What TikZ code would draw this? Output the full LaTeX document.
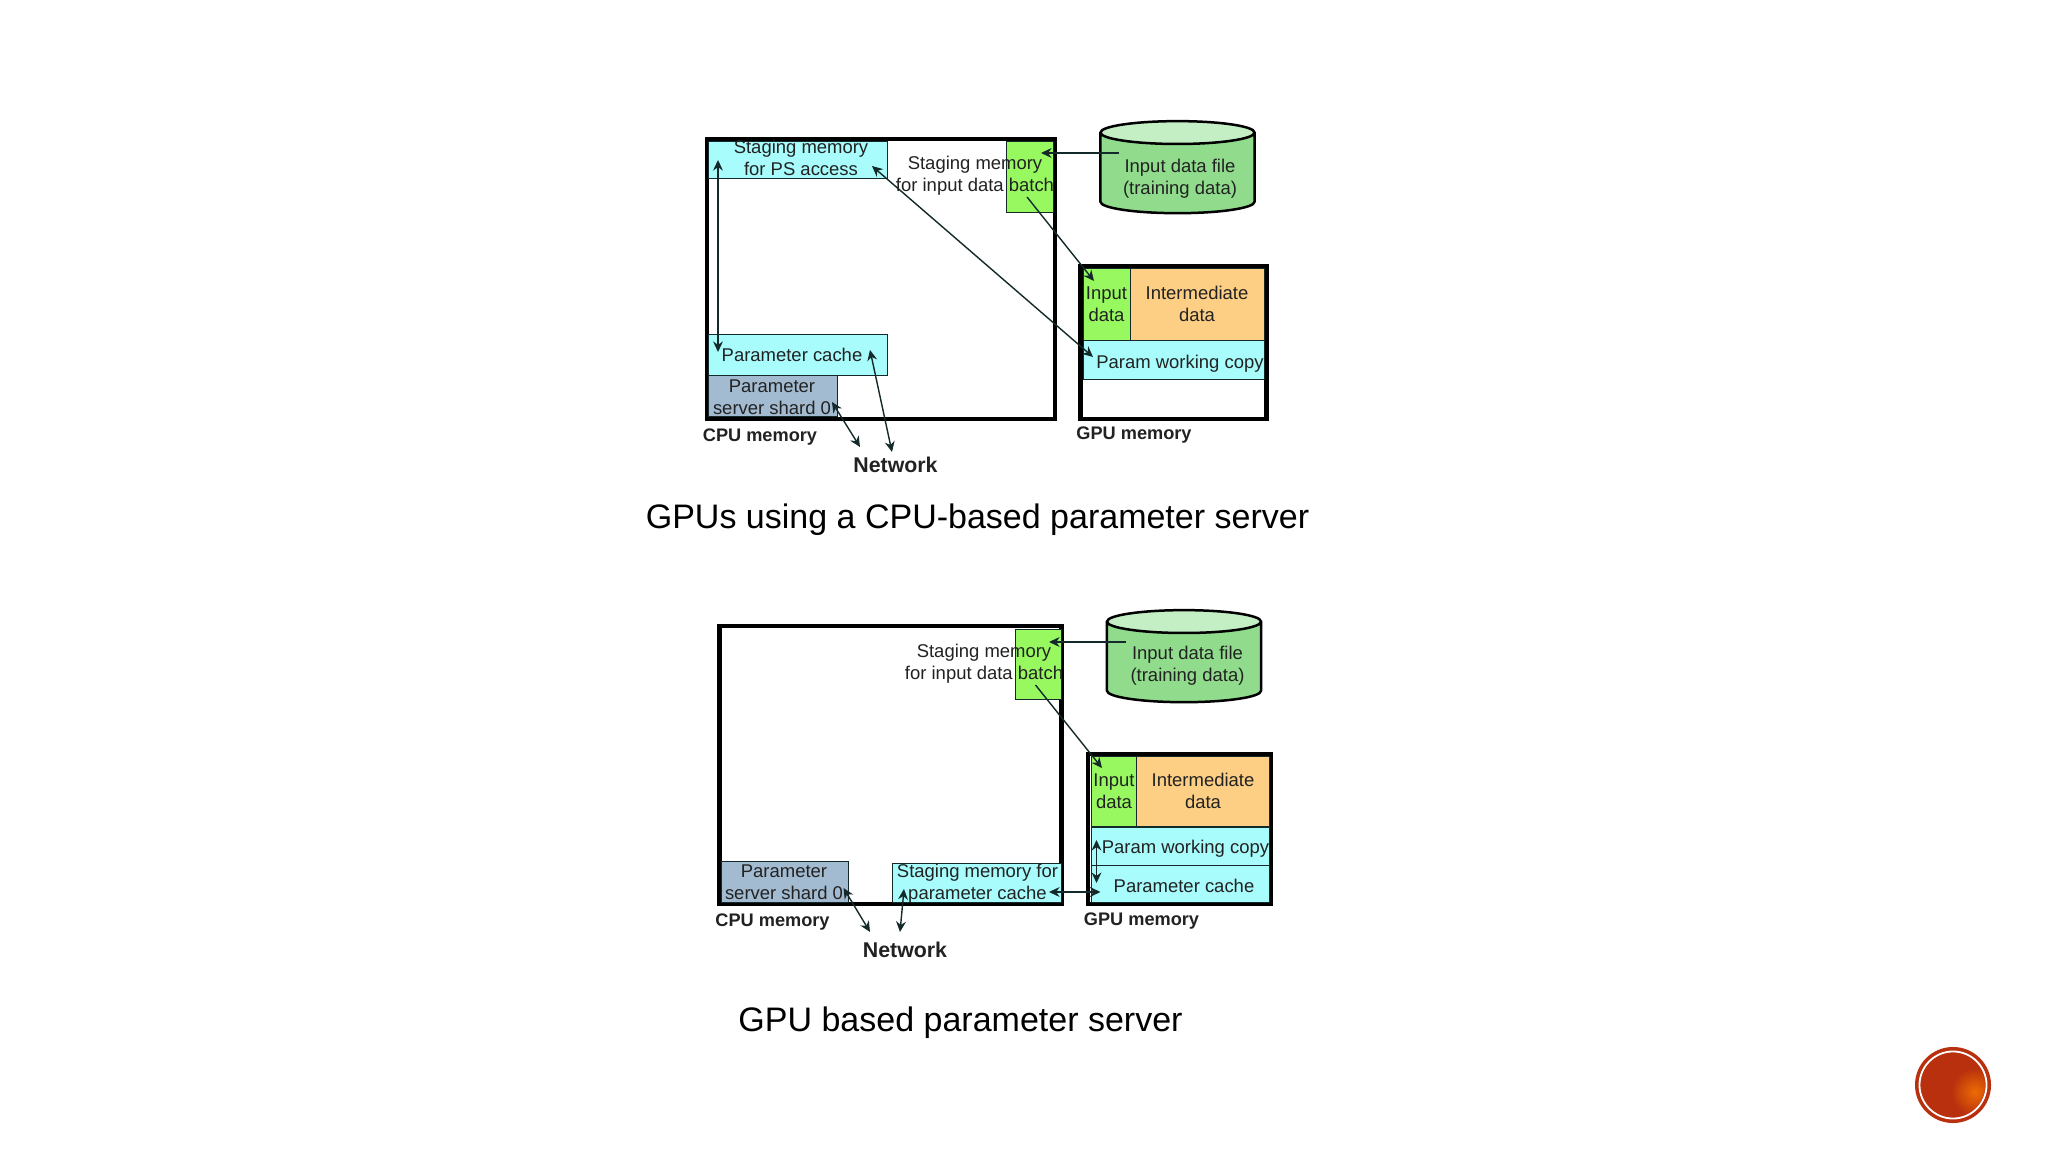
\documentclass[tikz,border=0pt]{standalone}
\usepackage{fontspec}
\usepackage{xcolor}
\usetikzlibrary{arrows.meta,shapes.geometric}
\setmainfont{Liberation Sans}
\definecolor{tcyan}{HTML}{A8FCFC}
\definecolor{tgreen}{HTML}{98F860}
\definecolor{torange}{HTML}{FDCF85}
\definecolor{tslate}{HTML}{A3BBD0}
\definecolor{tfile}{HTML}{90DC8C}
\definecolor{tfiletop}{HTML}{C4EEC4}
\definecolor{trust}{HTML}{B8300E}
\definecolor{tline}{HTML}{142A2A}
\definecolor{ttext}{HTML}{222222}

\begin{document}
\begin{tikzpicture}[x=0.01cm, y=-0.01cm,
    >={Stealth[length=3pt,width=2.8pt]},
    membox/.style={draw=black, line width=0.045cm, fill=white, inner sep=0pt},
    cell/.style={draw=tline, line width=0.008cm, inner sep=0pt, align=center, text=ttext,
                 font=\fontsize{5.25pt}{6.25pt}\selectfont},
    cyancell/.style={cell, fill=tcyan},
    greencell/.style={cell, fill=tgreen},
    orangecell/.style={cell, fill=torange},
    slatecell/.style={cell, fill=tslate},
    celltxt/.style={inner sep=0pt, align=center, text=ttext, font=\fontsize{5.25pt}{6.25pt}\selectfont},
    memlbl/.style={inner sep=0pt, text=ttext, font=\bfseries\fontsize{5.17pt}{6pt}\selectfont},
    netlbl/.style={inner sep=0pt, text=ttext, font=\bfseries\fontsize{6.07pt}{7pt}\selectfont},
    caption/.style={inner sep=0pt, font=\fontsize{9.67pt}{12pt}\selectfont},
    filecyl/.style={cylinder, shape border rotate=90, aspect=1.3, draw=black, line width=0.025cm,
                    cylinder uses custom fill, cylinder body fill=tfile, cylinder end fill=tfiletop,
                    minimum width=1.54cm, minimum height=0.92cm, inner sep=0pt},
    link/.style={draw=tline, line width=0.014cm}]

    \useasboundingbox (0,0) rectangle (2048,1152);

    % --- upper panel ------------------------------------------------------
    \node[membox, minimum width=3.48cm, minimum height=2.80cm] (cpuA) at (881,279) {};
    \node[membox, minimum width=1.86cm, minimum height=1.53cm] (gpuA) at (1173.5,342.5) {};
    \node[cyancell, minimum width=1.795cm, minimum height=0.37cm] (psA) at (798,159.5) {};
    \node[greencell, minimum width=0.47cm, minimum height=0.71cm] (batchA) at (1030,176.5) {};
    \node[cyancell, minimum width=1.795cm, minimum height=0.41cm] (cacheA) at (798,354.5) {};
    \node[slatecell, minimum width=1.29cm, minimum height=0.41cm] (shardA) at (773,395.5) {};
    \node[greencell, minimum width=0.47cm, minimum height=0.72cm] (inputA) at (1106.5,304) {Input\\data};
    \node[orangecell, minimum width=1.34cm, minimum height=0.72cm] (interA) at (1197,304) {Intermediate\\data};
    \node[cyancell, minimum width=1.81cm, minimum height=0.39cm] (workA) at (1173.5,359.5) {};
    \node[filecyl] (fileA) at (1177.5,173.5) {\phantom{x}};
    % texts that run over the cell edges
    \node[celltxt] (filetxtA) at (1180,179) {Input data file\\(training data)};
    \node[celltxt] (pstxtA) at (801,158) {Staging memory\\for PS access};
    \node[celltxt] (stagetxtA) at (975,175.5) {Staging memory\\for input data batch};
    \node[celltxt] (cachetxtA) at (792,355) {Parameter cache};
    \node[celltxt] (shardtxtA) at (772,397) {Parameter\\server shard 0};
    \node[celltxt] (worktxtA) at (1180,363.5) {Param working copy};
    \node[memlbl] (cpulblA) at (760,437) {CPU memory};
    \node[memlbl] (gpulblA) at (1134,435) {GPU memory};
    \node[netlbl] (netA) at (895.5,465) {Network};
    \node[caption] (capA) at (977.5,520) {GPUs using a CPU-based parameter server};

    % arrow ends
    \coordinate (psdownA) at (718,160);
    \coordinate (cacheupA) at (718,352);
    \coordinate (psdiagA) at (872,166);
    \coordinate (workdiagA) at (1093,357);
    \coordinate (fileoutA) at (1118.5,153);
    \coordinate (batchinA) at (1041,153);
    \coordinate (batchoutA) at (1027,197);
    \coordinate (inputinA) at (1094,281);
    \coordinate (shardnetA) at (832,402);
    \coordinate (netleftA) at (860,447);
    \coordinate (cachenetA) at (870,350);
    \coordinate (netrightA) at (892,452);

    \draw[link, <->] (psdownA) -- (cacheupA);
    \draw[link, <->] (psdiagA) -- (workdiagA);
    \draw[link, ->] (fileoutA) -- (batchinA);
    \draw[link, ->] (batchoutA) -- (inputinA);
    \draw[link, <->] (shardnetA) -- (netleftA);
    \draw[link, <->] (cachenetA) -- (netrightA);

    % --- lower panel ------------------------------------------------------
    \node[membox, minimum width=3.42cm, minimum height=2.78cm] (cpuB) at (890.5,765) {};
    \node[membox, minimum width=1.83cm, minimum height=1.50cm] (gpuB) at (1179.5,829) {};
    \node[greencell, minimum width=0.46cm, minimum height=0.70cm] (batchB) at (1038,664) {};
    \node[slatecell, minimum width=1.27cm, minimum height=0.41cm] (shardB) at (784.5,881.5) {};
    \node[cyancell, minimum width=1.685cm, minimum height=0.39cm] (stageB) at (977,882.5) {};
    \node[greencell, minimum width=0.456cm, minimum height=0.70cm] (inputB) at (1114,791) {Input\\data};
    \node[orangecell, minimum width=1.326cm, minimum height=0.70cm] (interB) at (1203,791) {Intermediate\\data};
    \node[cyancell, minimum width=1.78cm, minimum height=0.38cm] (workB) at (1180,846) {};
    \node[cyancell, minimum width=1.78cm, minimum height=0.37cm] (cacheB) at (1180,883.5) {};
    \node[filecyl] (fileB) at (1184,662.5) {\phantom{x}};
    % texts that run over the cell edges
    \node[celltxt] (filetxtB) at (1187.5,666) {Input data file\\(training data)};
    \node[celltxt] (stagetxtB) at (984,663.5) {Staging memory\\for input data batch};
    \node[celltxt] (shardtxtB) at (784,882) {Parameter\\server shard 0};
    \node[celltxt] (stagecachetxtB) at (977.5,883.5) {Staging memory for\\parameter cache};
    \node[celltxt] (worktxtB) at (1185.5,849) {Param working copy};
    \node[celltxt] (cachetxtB) at (1184,886) {Parameter cache};
    \node[memlbl] (cpulblB) at (772.5,922) {CPU memory};
    \node[memlbl] (gpulblB) at (1141.5,921) {GPU memory};
    \node[netlbl] (netB) at (905,950) {Network};
    \node[caption] (capB) at (960.5,1023) {GPU based parameter server};

    % arrow ends
    \coordinate (fileoutB) at (1126,642);
    \coordinate (batchinB) at (1049,642);
    \coordinate (batchoutB) at (1035.5,685);
    \coordinate (inputinB) at (1102,768);
    \coordinate (workinB) at (1096.5,840);
    \coordinate (cacheinB) at (1096.5,883);
    \coordinate (stagerightB) at (1049,892);
    \coordinate (cacheleftB) at (1100.5,892);
    \coordinate (shardnetB) at (843.5,888);
    \coordinate (netleftB) at (870,932);
    \coordinate (stagenetB) at (904,889);
    \coordinate (netrightB) at (900,932);

    \draw[link, ->] (fileoutB) -- (batchinB);
    \draw[link, ->] (batchoutB) -- (inputinB);
    \draw[link, <->] (workinB) -- (cacheinB);
    \draw[link, <->] (stagerightB) -- (cacheleftB);
    \draw[link, <->] (shardnetB) -- (netleftB);
    \draw[link, <->] (stagenetB) -- (netrightB);

    % --- corner badge -----------------------------------------------------
    \fill[trust] (1953,1085) circle (0.38cm);
    \begin{scope}
      \clip (1953,1085) circle (0.32cm);
      \shade[inner color=orange!75!trust, outer color=trust] (1975,1092) circle (0.24cm);
    \end{scope}
    \draw[white, line width=0.018cm] (1953,1085) circle (0.335cm);
\end{tikzpicture}
\end{document}
